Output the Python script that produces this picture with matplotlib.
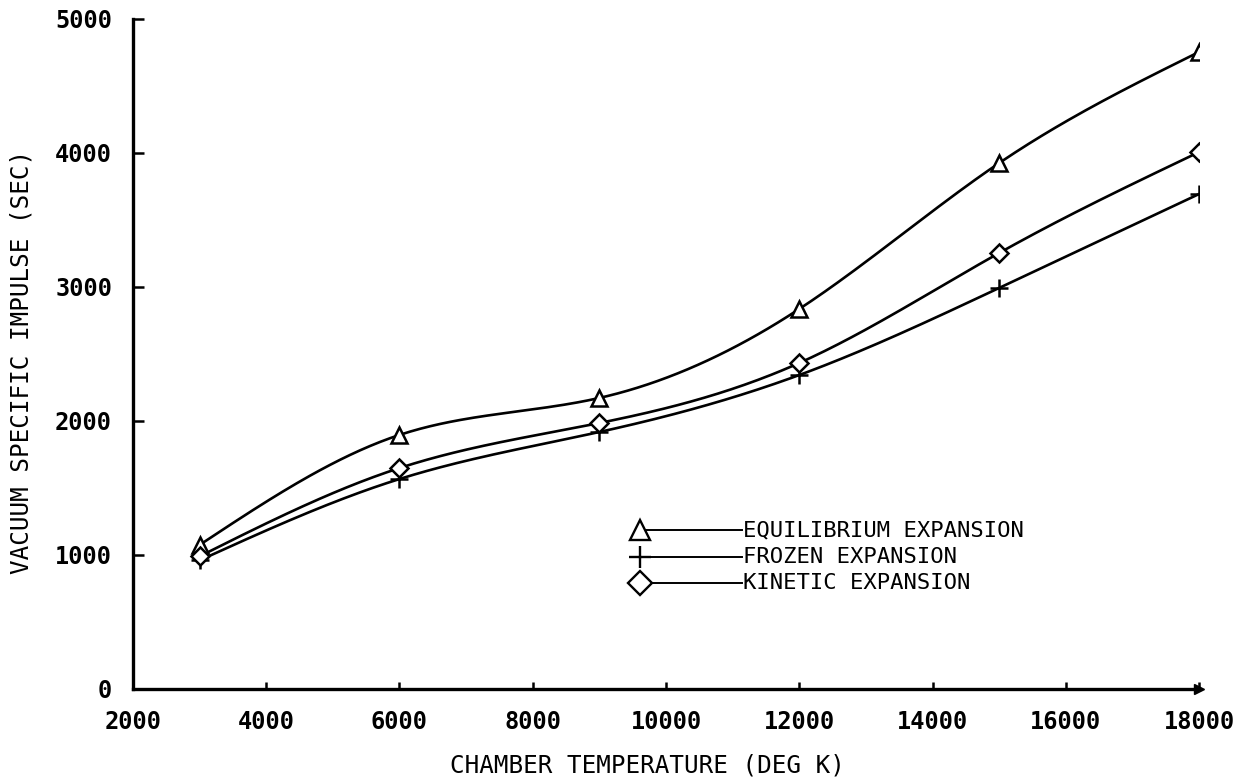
import numpy as np
import matplotlib
matplotlib.use("Agg")
import matplotlib.pyplot as plt

# ---- data ----
temperature = [3000, 6000, 9000, 12000, 15000, 18000]
equilibrium = [1075, 1896, 2172, 2836, 3925, 4754]
frozen = [960, 1567, 1918, 2343, 2993, 3694]
kinetic = [990, 1649, 1985, 2433, 3254, 4007]
series_labels = ["EQUILIBRIUM EXPANSION", "FROZEN EXPANSION", "KINETIC EXPANSION"]
x_ticks = [2000, 4000, 6000, 8000, 10000, 12000, 14000, 16000, 18000]
y_ticks = [0, 1000, 2000, 3000, 4000, 5000]
x_label = "CHAMBER TEMPERATURE (DEG K)"
y_label = "VACUUM SPECIFIC IMPULSE (SEC)"


def natural_spline(x, y, n=300):
    x = np.asarray(x, float)
    y = np.asarray(y, float)
    k = len(x)
    h = np.diff(x)
    A = np.zeros((k, k))
    b = np.zeros(k)
    A[0, 0] = A[-1, -1] = 1
    for i in range(1, k - 1):
        A[i, i - 1] = h[i - 1]
        A[i, i] = 2 * (h[i - 1] + h[i])
        A[i, i + 1] = h[i]
        b[i] = 3 * ((y[i + 1] - y[i]) / h[i] - (y[i] - y[i - 1]) / h[i - 1])
    c = np.linalg.solve(A, b)
    xs = np.linspace(x[0], x[-1], n)
    ys = np.empty_like(xs)
    for j, xv in enumerate(xs):
        i = min(np.searchsorted(x, xv, side="right") - 1, k - 2)
        dx = xv - x[i]
        bi = (y[i + 1] - y[i]) / h[i] - h[i] * (c[i + 1] + 2 * c[i]) / 3
        di = (c[i + 1] - c[i]) / (3 * h[i])
        ys[j] = y[i] + bi * dx + c[i] * dx ** 2 + di * dx ** 3
    return xs, ys


plt.rcParams["font.family"] = ["DejaVu Sans Mono", "DejaVu Sans"]

fig = plt.figure(figsize=(12.39, 7.78), dpi=100)
ax = fig.add_axes([0.1073, 0.1144, 0.8605, 0.8612])

markers = ["^", "+", "D"]
msizes = [12, 13, 9]
for vals, m, ms in zip([equilibrium, frozen, kinetic], markers, msizes):
    xs, ys = natural_spline(temperature, vals)
    ax.plot(xs, ys, color="black", lw=1.9, zorder=2)
    ax.plot(temperature, vals, linestyle="none", marker=m, ms=ms,
            mfc="white" if m != "+" else "black", mec="black", mew=1.8, zorder=3)

ax.set_xlim(2000, 18000)
ax.set_ylim(0, 5000)
ax.set_xticks(x_ticks)
ax.set_yticks(y_ticks)
for s in ["top", "right"]:
    ax.spines[s].set_visible(False)
for s in ["left", "bottom"]:
    ax.spines[s].set_linewidth(2.4)
ax.tick_params(axis="both", direction="in", width=1.8, labelsize=17, pad=15)
ax.tick_params(axis="x", length=5)
ax.tick_params(axis="y", length=8)
for lab in ax.get_xticklabels() + ax.get_yticklabels():
    lab.set_fontweight("bold")

ax.set_xlabel(x_label, fontsize=17.5)
ax.set_ylabel(y_label, fontsize=17.5)
ax.xaxis.set_label_coords(0.483, -0.097)
ax.yaxis.set_label_coords(-0.093, 0.488)

# arrow at end of x axis
ax.plot([1.0], [0.0], marker=">", ms=7, color="black", transform=ax.transAxes, clip_on=False)

# manual legend
rows_y = [0.237, 0.197, 0.158]
for lab, m, ms, yy in zip(series_labels, markers, msizes, rows_y):
    ax.plot([0.4756, 0.571], [yy, yy], color="black", lw=1.4, transform=ax.transAxes)
    ax.plot([0.4756], [yy], marker=m, ms=ms + 3, mfc="white" if m != "+" else "black",
            mec="black", mew=1.7, transform=ax.transAxes, linestyle="none")
    ax.text(0.572, yy, lab, transform=ax.transAxes, fontsize=16, va="center", ha="left")

fig.savefig("out.png", dpi=100)
